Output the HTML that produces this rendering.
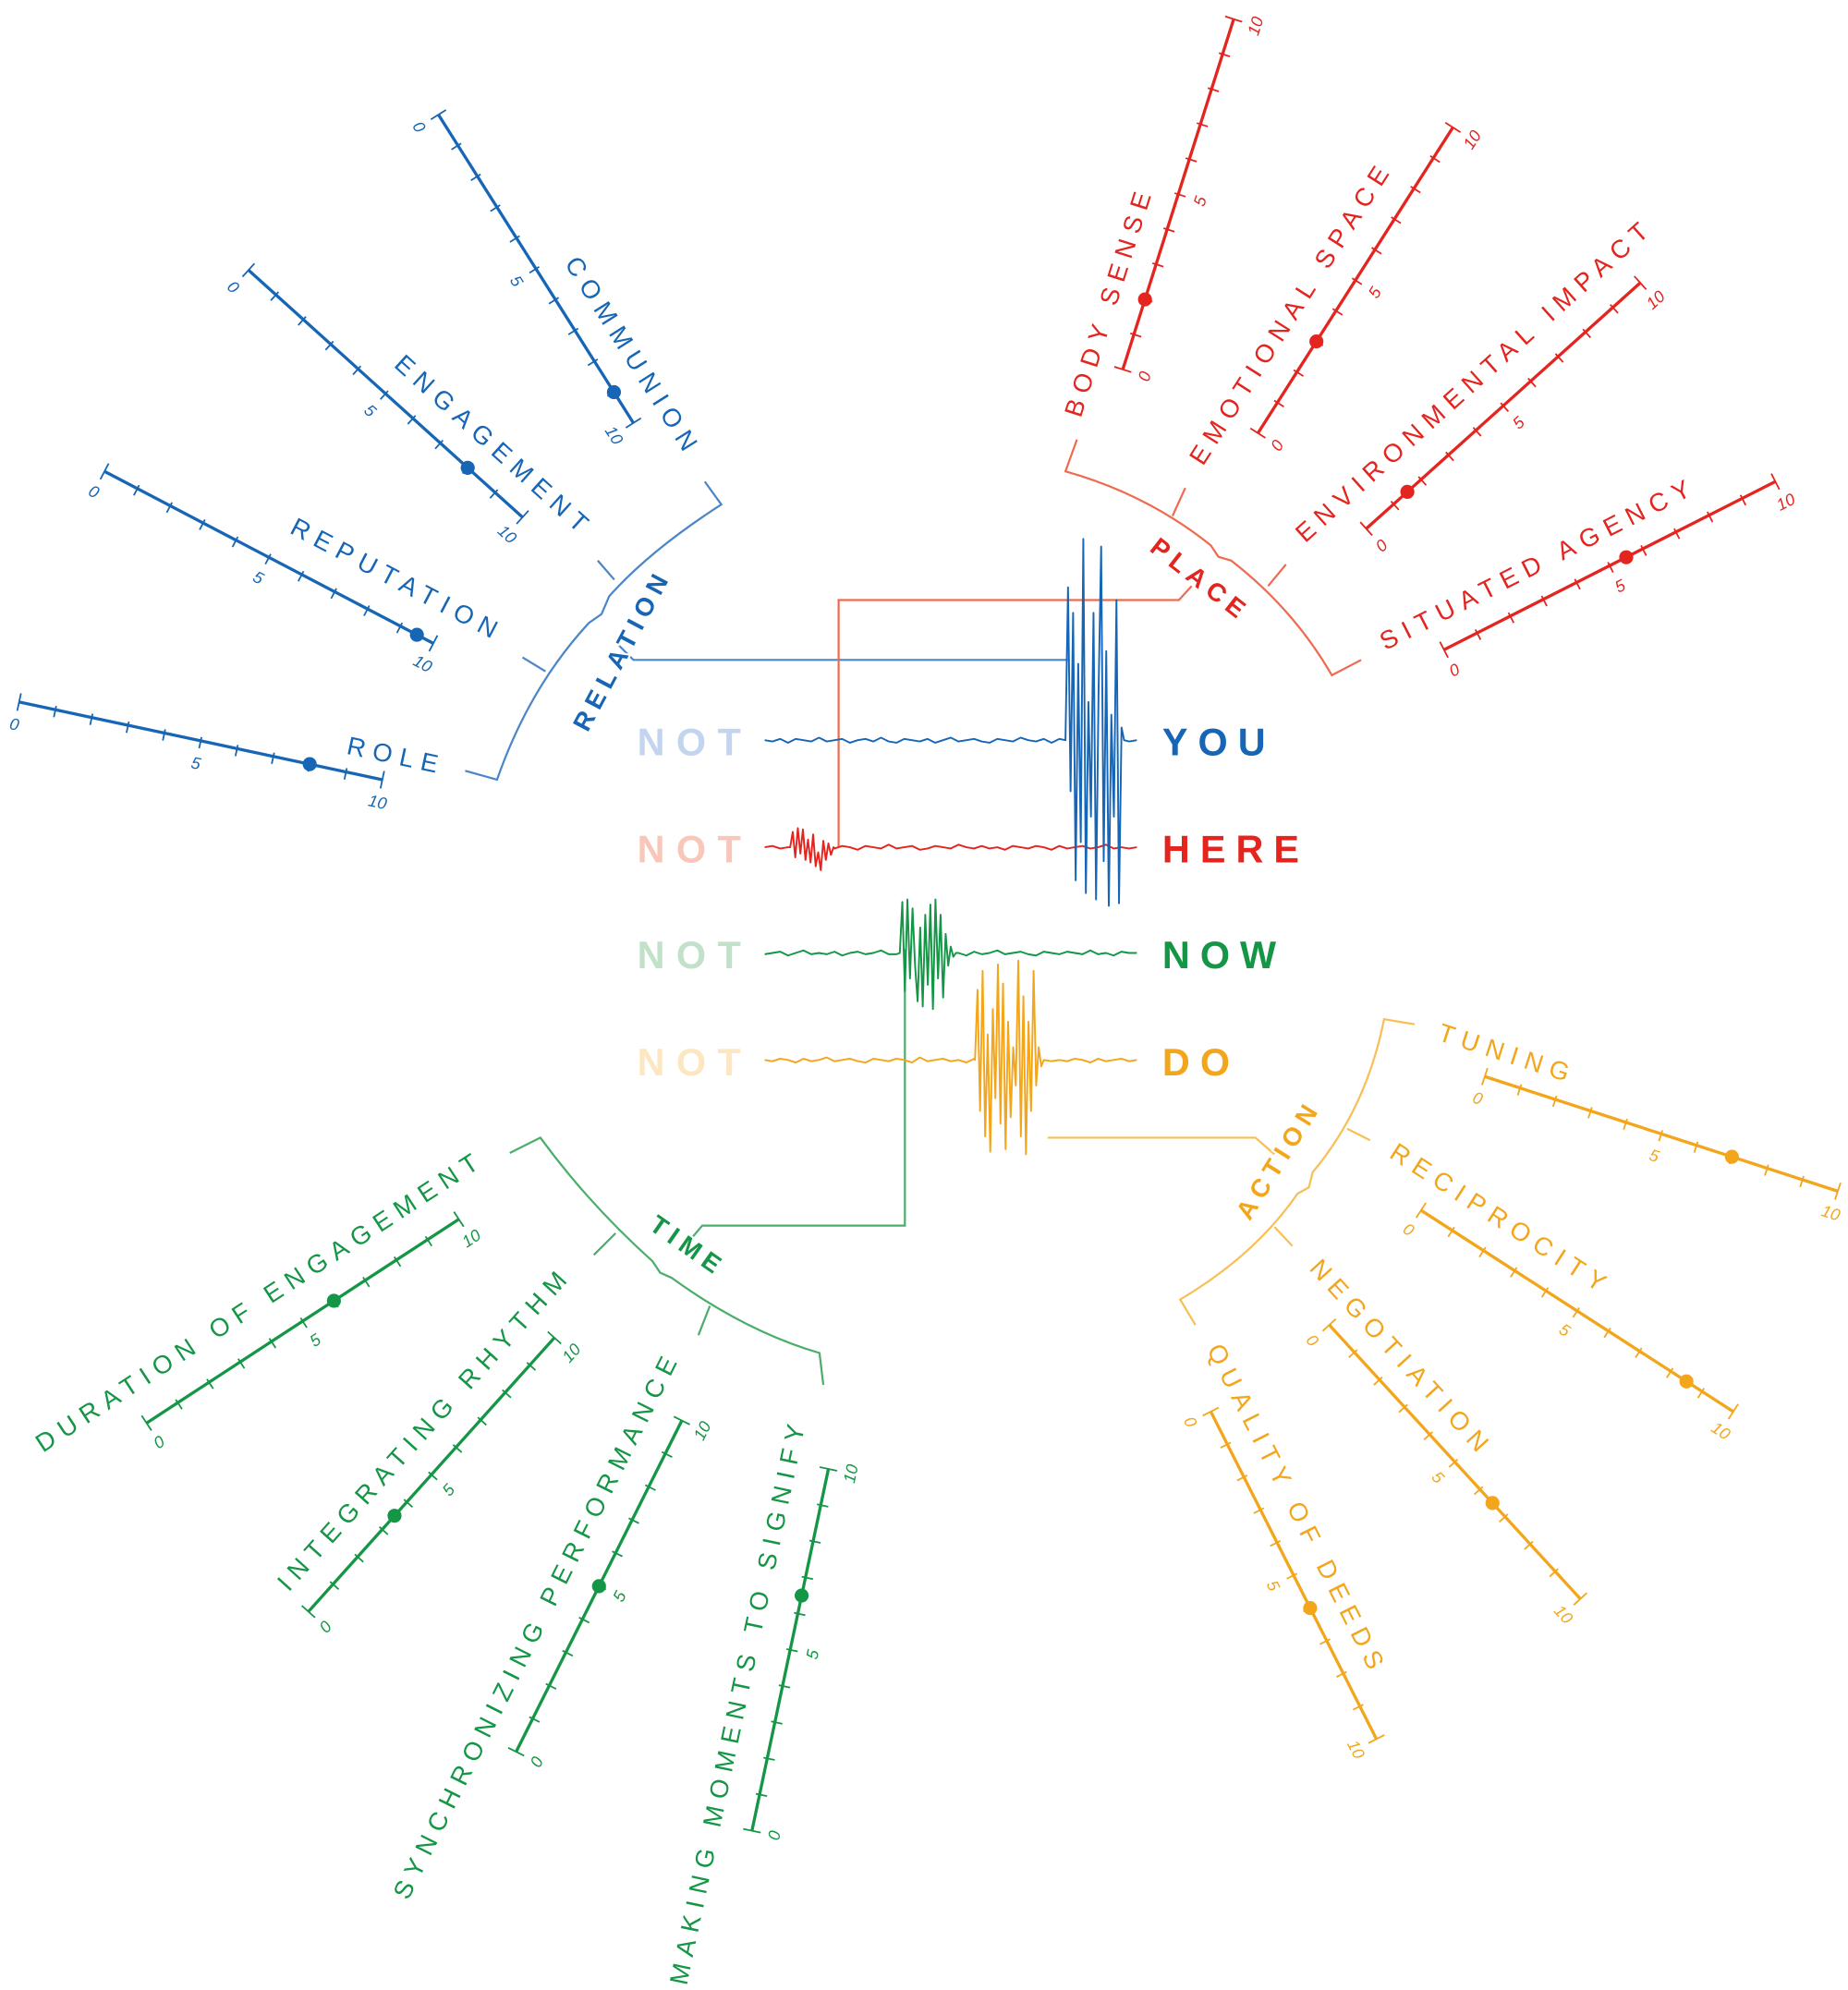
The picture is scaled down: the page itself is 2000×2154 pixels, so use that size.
<!DOCTYPE html>
<html><head><meta charset="utf-8"><style>
html,body{margin:0;padding:0;background:#fff;}
svg{display:block;}
text{font-family:"Liberation Sans",sans-serif;}
</style></head><body>
<svg id="chart" width="2000" height="2154" viewBox="0 0 1450 1562" preserveAspectRatio="none" xmlns="http://www.w3.org/2000/svg">
<g id="brackets" fill="none" stroke-width="1.6">
 <path stroke="#4a86c8" d="M553,378 L566,396 Q510,432 478,468 L472,482 L462,489 Q415,540 390,612 L365,605 M482,455 L469,440 M428,527 L410,516"/>
 <path stroke="#4a86c8" d="M484,505 L497,518 L838,518"/>
 <path stroke="#ef6b4f" d="M845,345 L836,370 Q900,388 950,428 L956,437 L966,440 Q1015,478 1045,530 L1068,518 M920,405 L930,383 M995,460 L1009,443"/>
 <path stroke="#ef6b4f" d="M935,460 L925,471 L658,471 L658,665"/>
 <path stroke="#f7bf55" d="M1110,804 L1086,800 Q1072,870 1030,920 L1027,932 L1018,937 Q985,985 926,1020 L938,1040 M1057,886 L1075,895 M1000,963 L1014,978"/>
 <path stroke="#f7bf55" d="M822,893 L985,893 L1000,906"/>
 <path stroke="#4aad6a" d="M400,905 L424,893 Q462,945 512,990 L518,999 L527,1003 Q585,1045 643,1062 L646,1087 M483,968 L466,985 M557,1025 L548,1048"/>
 <path stroke="#4aad6a" d="M540,975 L551,962 L710,962 L710,745"/>
</g>
<g id="scales"></g>
<g id="traces"></g>
<g id="words"></g>
</svg>
<script>
// ---- scale data ----
const scaleNames = ["COMMUNION","ENGAGEMENT","REPUTATION","ROLE","BODY SENSE","EMOTIONAL SPACE","ENVIRONMENTAL IMPACT","SITUATED AGENCY","TUNING","RECIPROCITY","NEGOTIATION","QUALITY OF DEEDS","DURATION OF ENGAGEMENT","INTEGRATING RHYTHM","SYNCHRONIZING PERFORMANCE","MAKING MOMENTS TO SIGNIFY"];
const scaleValues = [9, 8, 9.5, 8, 2, 3, 1.5, 5.5, 7, 8.5, 6.5, 6, 6, 3.5, 5, 6.5];
const scaleGroups = ["relation","relation","relation","relation","place","place","place","place","action","action","action","action","time","time","time","time"];
const tickLabels = ["0","5","10"];
const tickLabelValues = [0,5,10];
const scaleMax = 10;
// ---- trace data (amplitude offsets) ----
const traceWords = ["YOU","HERE","NOW","DO"];
const blueNoise = [0,1,-1,2,-1,0,1,-2,1,0,-1,2,0,-1,1,-2,1,2,-1,0,1,-1,2,0,-2,1,0,-1,1,2,-1,0,1,-2,0,1,-1,2,-1,0,1,0,-1,2,1,-1,0,1,0];
const redNoise = [0,-1,1,0,2,-1,1,-2,0,1,-1,0,2,-1,0,1,-2,1,0,-1,2,1,-1,0,1,-2,0,1,-1,1,0,2,-1,0,1,-1,0,2,-1,1,0,-1,1,0,-2,1,0,1,0];
const greenNoise = [1,0,-1,2,0,-2,1,0,1,-1,2,0,-1,1,0,-2,1,1,-1,0,2,-1,0,1,-1,0,2,-1,1,0,-2,1,0,-1,1,2,-1,0,1,-1,0,1,-2,1,0,2,-1,0,0];
const orangeNoise = [0,1,-1,0,2,-1,1,0,-2,1,0,-1,1,2,-1,0,1,-1,0,2,-2,1,0,-1,1,0,2,-1,0,1,-1,2,0,-1,1,0,-2,1,0,1,-1,0,2,-1,1,0,-1,1,0];
const blueBurst = [0,-120,40,-100,110,-60,80,-158,120,-30,60,-100,125,-40,-152,95,-70,130,-20,60,-110,128,-10,0];
const redBurst = [0,-12,8,-15,5,-14,10,-6,12,-10,15,4,18,-5,10,-3,6,0];
const greenBurst = [0,-40,30,-42,20,-35,10,38,-20,42,-30,25,-38,44,-42,20,-30,35,-15,10,-5,3,0];
const orangeBurst = [0,-55,40,-70,60,-20,72,-40,30,-75,50,-60,70,-30,45,-10,20,-78,60,-50,74,-30,40,-70,20,-10,5,0];

const NS="http://www.w3.org/2000/svg";
const colors={relation:"#1766b6",place:"#e4241f",action:"#f3a61b",time:"#149646"};
// layout (pixel geometry, not data)
const geo=[
 {p0:[344,90],p10:[497,332],lc:[497,280]},
 {p0:[195,212],p10:[410,406],lc:[388,350]},
 {p0:[82,370],p10:[340,505],lc:[312,455]},
 {p0:[15,551],p10:[300,612],lc:[311,593]},
 {p0:[881,290],p10:[968,15],lc:[870,236]},
 {p0:[987,340],p10:[1140,100],lc:[1013,245]},
 {p0:[1072,415],p10:[1287,222],lc:[1157,298]},
 {p0:[1133,510],p10:[1393,378],lc:[1207,442]},
 {p0:[1165,845],p10:[1442,935],lc:[1183,827]},
 {p0:[1115,950],p10:[1360,1108],lc:[1178,957]},
 {p0:[1043,1040],p10:[1240,1255],lc:[1100,1066]},
 {p0:[950,1108],p10:[1080,1365],lc:[1018,1185]},
 {p0:[115,1117],p10:[360,957],lc:[204,1021]},
 {p0:[242,1265],p10:[435,1050],lc:[333,1121]},
 {p0:[405,1375],p10:[535,1115],lc:[421,1275]},
 {p0:[590,1437],p10:[650,1153],lc:[579,1335]}
];
function mk(tag,attrs,parent){const e=document.createElementNS(NS,tag);for(const k in attrs)e.setAttribute(k,attrs[k]);parent.appendChild(e);return e;}
const sg=document.getElementById('scales');
scaleNames.forEach((name,i)=>{
 const g=geo[i],col=colors[scaleGroups[i]];
 const dx=g.p10[0]-g.p0[0],dy=g.p10[1]-g.p0[1],L=Math.hypot(dx,dy);
 const ux=dx/L,uy=dy/L,nx=-uy,ny=ux,ang=Math.atan2(dy,dx)*180/Math.PI;
 const pos=v=>[g.p0[0]+dx*v/scaleMax,g.p0[1]+dy*v/scaleMax];
 const grp=mk('g',{},sg);
 
 
 const ln=mk('line',{x1:g.p0[0],y1:g.p0[1],x2:g.p10[0],y2:g.p10[1],stroke:col,'stroke-width':2.4},grp);
 
 
 for(let t=0;t<=scaleMax;t++){
  const [x,y]=pos(t);const a=(t===0||t===scaleMax)?7:3,b=(t===0||t===scaleMax)?7:6;
  const tk=mk('line',{x1:x-nx*a,y1:y-ny*a,x2:x+nx*b,y2:y+ny*b,stroke:col,'stroke-width':1.3},grp);
  
  
 }
 tickLabels.forEach((lab,k)=>{
  const [x,y]=pos(tickLabelValues[k]);const tx=x+nx*18,ty=y+ny*18;
  const te=mk('text',{x:tx,y:ty,fill:col,'font-size':13,'font-style':'italic','text-anchor':'middle','dominant-baseline':'central',transform:`rotate(${ang} ${tx} ${ty})`},grp);
  te.textContent=lab;
  
  
 });
 const [cx,cy]=pos(scaleValues[i]);
 const dot=mk('circle',{cx:cx,cy:cy,r:5.5,fill:col},grp);
 
 
 const lt=mk('text',{x:g.lc[0],y:g.lc[1],fill:col,'font-size':20,'letter-spacing':6,'text-anchor':'middle','dominant-baseline':'central',transform:`rotate(${ang} ${g.lc[0]} ${g.lc[1]})`},grp);
 lt.textContent=name;
 
 
});
// category labels
const cats=[["RELATION",488,510,-62,"relation"],["PLACE",942,455,38,"place"],["ACTION",1003,910,-58,"action"],["TIME",540,978,35,"time"]];
const wg=document.getElementById('words');
cats.forEach(c=>{
 const t=mk('text',{x:c[1],y:c[2],fill:colors[c[4]],'font-size':20,'font-weight':'bold','letter-spacing':5,'text-anchor':'middle','dominant-baseline':'central',transform:`rotate(${c[3]} ${c[1]} ${c[2]})`,stroke:'#fff','stroke-width':3,'paint-order':'stroke'},wg);
 t.textContent=c[0];
 
 
});
// traces
const tg=document.getElementById('traces');
const traceCfg=[
 {y:581,noise:blueNoise,burst:blueBurst,bx:836,col:"#1766b6",light:"#c3d4ee"},
 {y:665,noise:redNoise,burst:redBurst,bx:620,col:"#e4241f",light:"#f8c7b9"},
 {y:748,noise:greenNoise,burst:greenBurst,bx:706,col:"#149646",light:"#c2e1ca"},
 {y:832,noise:orangeNoise,burst:orangeBurst,bx:765,col:"#f3a61b",light:"#fde7c3"}
];
const x0=600,x1=892,bstep=2;
[3,2,1,0].forEach(i=>{
 const c=traceCfg[i];
 const nstep=(x1-x0)/(c.noise.length-1);
 const bEnd=c.bx+(c.burst.length-1)*bstep;
 const pts=[];
 c.noise.forEach((v,k)=>{const x=x0+k*nstep;if(x<c.bx||x>bEnd)pts.push([x,c.y+v]);});
 c.burst.forEach((v,k)=>pts.push([c.bx+k*bstep,c.y+v]));
 pts.sort((a,b)=>a[0]-b[0]);
 const p=mk('path',{d:'M'+pts.map(q=>q[0].toFixed(1)+','+q[1].toFixed(1)).join(' L'),fill:'none',stroke:c.col,'stroke-width':1.4,'stroke-linejoin':'round'},tg);
 
 
});
traceCfg.forEach((c,i)=>{
 const n=mk('text',{x:500,y:c.y+12,fill:c.light,'font-size':30,'font-weight':'bold','letter-spacing':9},wg);
 n.textContent="NOT";
 
 
 const w=mk('text',{x:912,y:c.y+12,fill:c.col,'font-size':30,'font-weight':'bold','letter-spacing':8},wg);
 w.textContent=traceWords[i];
 
 
});
</script>
</body></html>
